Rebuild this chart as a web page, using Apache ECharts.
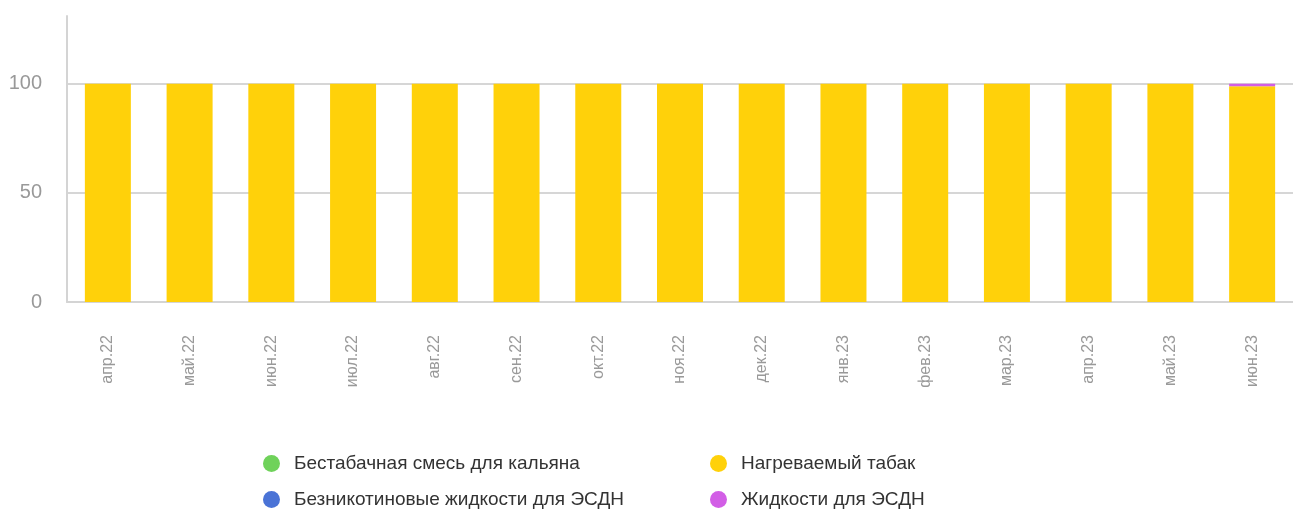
<!DOCTYPE html>
<html>
<head>
<meta charset="utf-8">
<script src="https://cdn.jsdelivr.net/npm/echarts@6/dist/echarts.min.js"></script>
<style>
  html, body { margin: 0; padding: 0; background: #fff; }
  #chart { width: 1293px; height: 509px; }
</style>
</head>
<body>
<div id="chart"></div>
<script>
// months along the x axis
const months = ['апр.22', 'май.22', 'июн.22', 'июл.22', 'авг.22', 'сен.22', 'окт.22',
  'ноя.22', 'дек.22', 'янв.23', 'фев.23', 'мар.23', 'апр.23', 'май.23', 'июн.23'];

// share of each category, %
const hookahMix = [0, 0, 0, 0, 0, 0, 0, 0, 0, 0, 0, 0, 0, 0, 0];
const nicotineFree = [0, 0, 0, 0, 0, 0, 0, 0, 0, 0, 0, 0, 0, 0, 0];
const heatedTobacco = [100, 100, 100, 100, 100, 100, 100, 100, 100, 100, 100, 100, 100, 100, 98.8];
const liquids = [0, 0, 0, 0, 0, 0, 0, 0, 0, 0, 0, 0, 0, 0, 1.2];

const yTicks = [0, 50, 100];

const names = [
  'Бестабачная смесь для кальяна',
  'Безникотиновые жидкости для ЭСДН',
  'Нагреваемый табак',
  'Жидкости для ЭСДН'
];
const colors = ['#6fd25a', '#4a73d6', '#ffd10a', '#d25ee6'];
const values = [hookahMix, nicotineFree, heatedTobacco, liquids];

const chart = echarts.init(document.getElementById('chart'));
const font = "'Liberation Sans', Arial, sans-serif";

// two legend columns, each a vertical list of two items
const legendBase = {
  orient: 'vertical',
  top: 449,
  height: 120,
  itemWidth: 35,
  itemHeight: 17,
  itemGap: 17,
  icon: 'circle',
  textStyle: { color: '#333', fontSize: 19, fontFamily: font }
};

const option = {
  animation: false,
  color: colors,
  legend: [
    { ...legendBase, left: 258, data: [names[0], names[1]] },
    { ...legendBase, left: 705, data: [names[2], names[3]] }
  ],
  grid: { left: 67, top: 16, width: 1236, height: 286 },
  xAxis: {
    type: 'category',
    data: months,
    axisLine: { lineStyle: { color: '#d4d4d4', width: 2 } },
    axisTick: { show: false },
    axisLabel: {
      rotate: 90,
      margin: 33,
      color: '#999',
      fontSize: 16,
      fontFamily: font
    }
  },
  yAxis: {
    type: 'value',
    min: 0,
    max: 131,
    interval: 50,
    axisLine: { show: true, lineStyle: { color: '#d4d4d4', width: 2 } },
    axisTick: { show: false },
    axisLabel: {
      margin: 25,
      color: '#999',
      fontSize: 20,
      fontFamily: font,
      showMaxLabel: false,
      formatter: (v) => (yTicks.includes(v) ? String(v) : '')
    },
    splitLine: {
      lineStyle: {
        color: ['#d6d6d6', '#d6d6d6', '#d6d6d6', 'rgba(0,0,0,0)'],
        width: 2
      }
    }
  },
  series: names.map((name, i) => ({
    name,
    type: 'bar',
    stack: 'total',
    barWidth: 46,
    data: values[i],
    itemStyle: { color: colors[i] }
  }))
};

chart.setOption(option);
</script>
</body>
</html>
